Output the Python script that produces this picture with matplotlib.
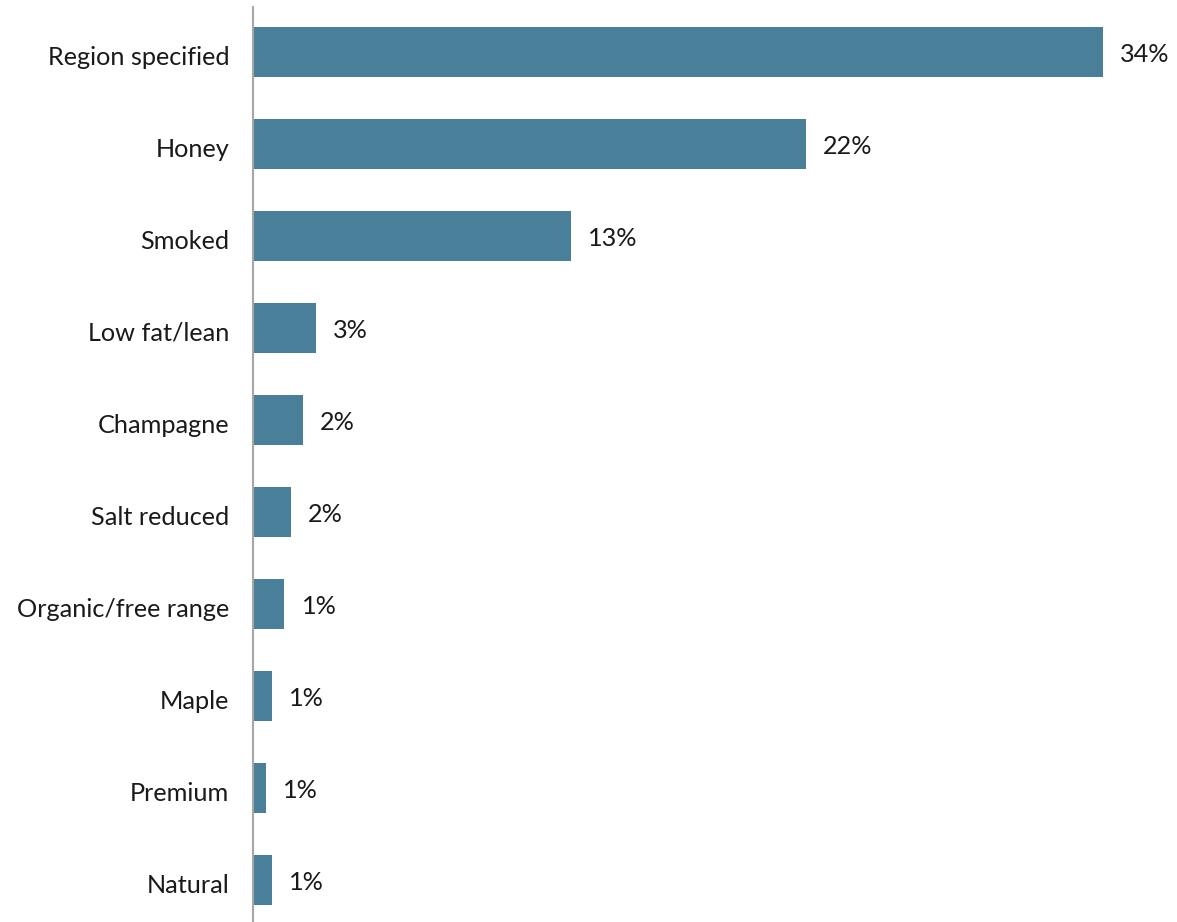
import matplotlib
matplotlib.use("Agg")
import matplotlib.pyplot as plt
import matplotlib.transforms as mtransforms

# share of products by claim, top to bottom
claims = ["Region specified", "Honey", "Smoked", "Low fat/lean", "Champagne",
          "Salt reduced", "Organic/free range", "Maple", "Premium", "Natural"]
shares = [34.0, 22.1, 12.7, 2.5, 2.0, 1.5, 1.25, 0.75, 0.5, 0.75]

plt.rcParams["font.family"] = ["Lato", "DejaVu Sans"]

fig = plt.figure(figsize=(11.77, 9.22), dpi=100)
ax = fig.add_axes([253 / 1177, 0, 924 / 1177, 915 / 922])

ypos = list(range(len(claims)))
ax.barh(ypos, shares, height=0.54, color="#4a7f9a")

for y, v in zip(ypos, shares):
    ax.annotate(f"{int(v + 0.5)}%", xy=(v, y), xytext=(12.5, -1.5),
                textcoords="offset points", va="center", ha="left",
                fontsize=18.2, color="#1a1a1a")

ax.set_yticks(ypos)
ax.set_yticklabels(claims, fontsize=18.2, color="#1a1a1a")
ax.tick_params(axis="y", length=0, pad=17)
# nudge category names down a little so they sit centred on the bars
shift = mtransforms.ScaledTranslation(0, -2.5 / 72, fig.dpi_scale_trans)
for lbl in ax.get_yticklabels():
    lbl.set_transform(lbl.get_transform() + shift)
ax.set_xticks([])
ax.set_xlim(0, 36.96)
ax.set_ylim(9.457, -0.489)

for side in ["top", "right", "bottom"]:
    ax.spines[side].set_visible(False)
ax.spines["left"].set_color("#a6a6a6")
ax.spines["left"].set_linewidth(1.5)

fig.savefig("out.png", dpi=100)
